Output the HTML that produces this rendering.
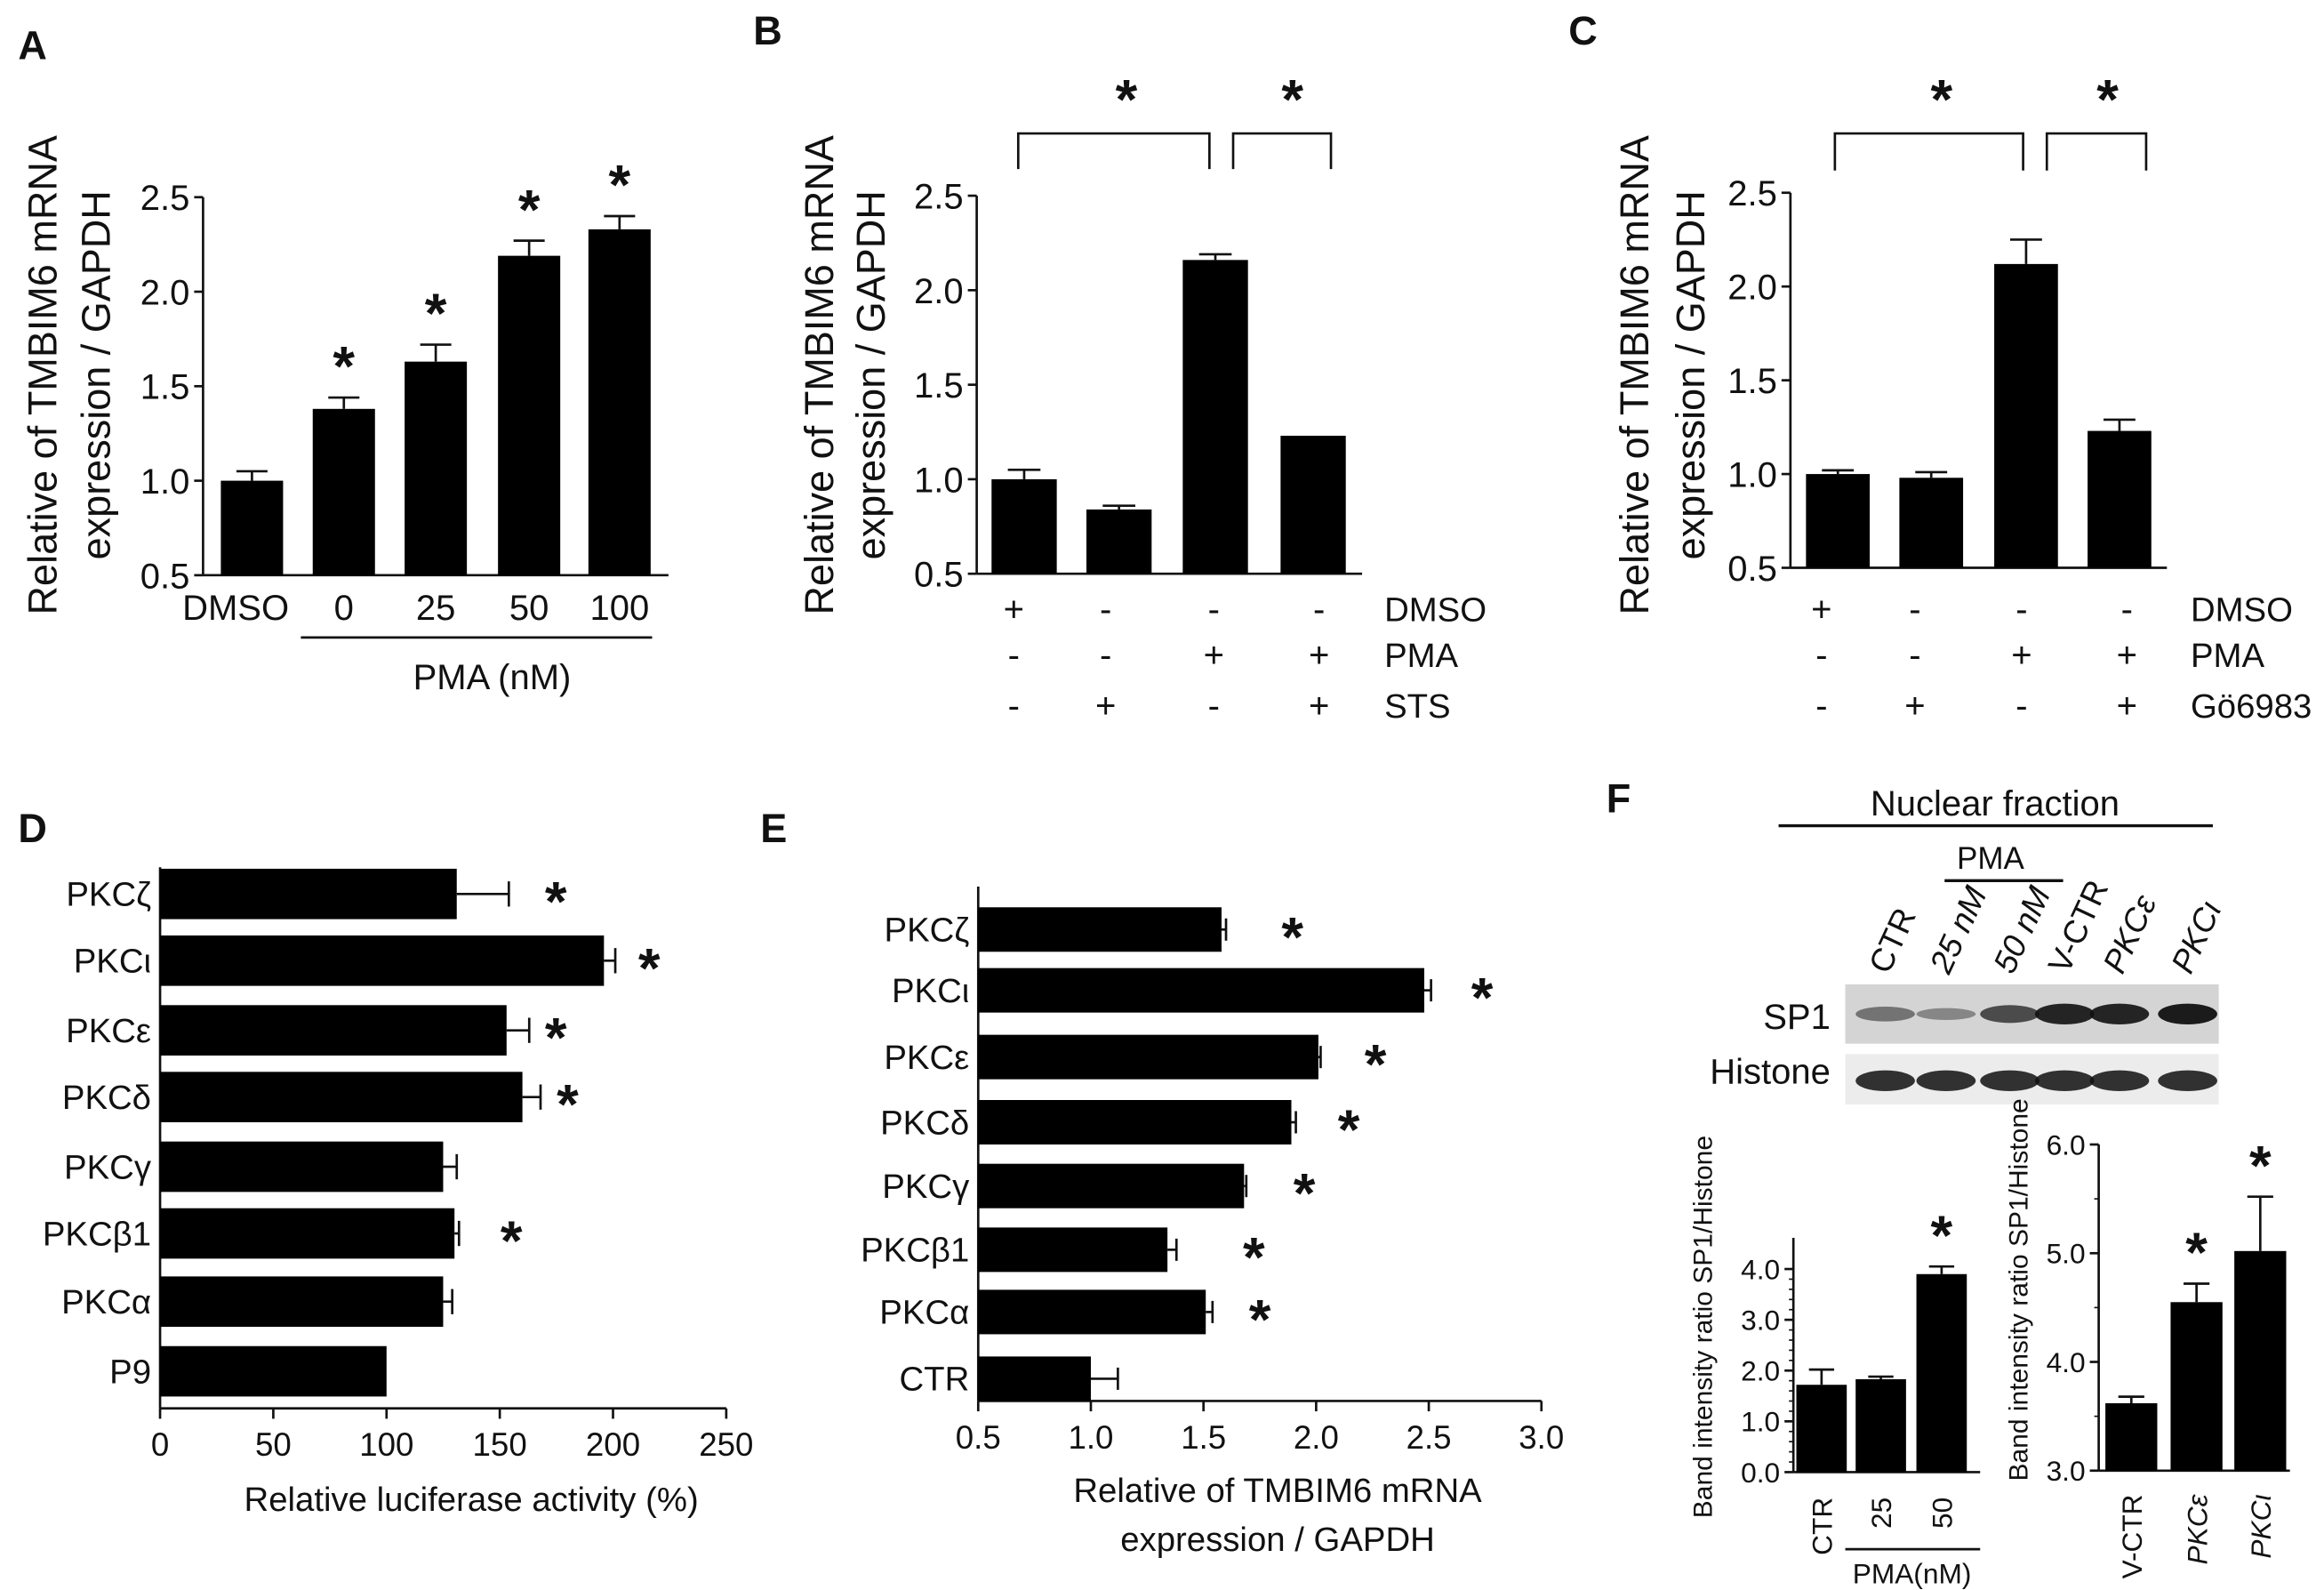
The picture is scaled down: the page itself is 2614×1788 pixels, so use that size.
<!DOCTYPE html>
<html><head><meta charset="utf-8"><style>
html,body{margin:0;padding:0;background:#fff}
svg{display:block}
text{font-family:"Liberation Sans",Arial,sans-serif;fill:#111}
</style></head><body>
<svg id="fig" width="2614" height="1788" viewBox="0 0 1568 1072.5" xmlns="http://www.w3.org/2000/svg"></svg>
<script>
// ---------- DATA ----------
const aCats = ["DMSO","0","25","50","100"];
const aVals = [1.0,1.38,1.63,2.19,2.33];
const aErrs = [0.05,0.06,0.09,0.08,0.07];
const aStars = [false,true,true,true,true];
const bVals = [1.0,0.84,2.16,1.23];
const bErrs = [0.05,0.02,0.03,0.0];
const bRows = [["+","-","-","-"],["-","-","+","+"],["-","+","-","+"]];
const bRowLabels = ["DMSO","PMA","STS"];
const cVals = [1.0,0.98,2.12,1.23];
const cErrs = [0.02,0.03,0.13,0.06];
const cRows = [["+","-","-","-"],["-","-","+","+"],["-","+","-","+"]];
const cRowLabels = ["DMSO","PMA","Gö6983"];
const yTicksABC = [0.5,1.0,1.5,2.0,2.5];
const dCats = ["PKCζ","PKCι","PKCε","PKCδ","PKCγ","PKCβ1","PKCα","P9"];
const dVals = [131,196,153,160,125,130,125,100];
const dErrs = [23,5,10,8,6,2,4,0];
const dStars = [true,true,true,true,false,true,false,false];
const dTicks = [0,50,100,150,200,250];
const eCats = ["PKCζ","PKCι","PKCε","PKCδ","PKCγ","PKCβ1","PKCα","CTR"];
const eVals = [1.58,2.48,2.01,1.89,1.68,1.34,1.51,1.0];
const eErrs = [0.02,0.03,0.01,0.02,0.01,0.04,0.03,0.12];
const eStars = [true,true,true,true,true,true,true,false];
const eTicks = [0.5,1.0,1.5,2.0,2.5,3.0];
const f1Cats = ["CTR","25","50"];
const f1Vals = [1.72,1.83,3.9];
const f1Errs = [0.3,0.05,0.15];
const f1Ticks = [0,1,2,3,4];
const f2Cats = ["V-CTR","PKCε","PKCι"];
const f2Vals = [3.62,4.55,5.02];
const f2Errs = [0.06,0.17,0.5];
const f2Ticks = [3,4,5,6];

// ---------- HELPERS ----------
const svg = document.getElementById('fig');
const NS = "http://www.w3.org/2000/svg";
function mk(tag, attrs, name, parent){
  const e = document.createElementNS(NS, tag);
  for (const k in attrs) e.setAttribute(k, attrs[k]);
  
  
  (parent||svg).appendChild(e);
  return e;
}
function txt(x,y,s,size,name,opt){
  opt=opt||{};
  const t = mk('text',{x:x,y:y,'font-size':size,'text-anchor':opt.anchor||'middle','font-weight':opt.bold?'bold':'normal'},name,opt.parent);
  if(opt.rot!==undefined) t.setAttribute('transform','rotate('+opt.rot+' '+x+' '+y+')');
  if(opt.italic) t.setAttribute('font-style','italic');
  t.textContent = s;
  return t;
}
function line(x1,y1,x2,y2,name,w){
  return mk('line',{x1:x1,y1:y1,x2:x2,y2:y2,stroke:'#111','stroke-width':w||1.6},name);
}
function star(x,y,name){ return txt(x,y,'*',38,name||'significance-star',{bold:true}); }

function vPanel(o){
  const y = v => o.y0 - (v - o.vmin)/(o.vmax - o.vmin)*(o.y0 - o.y1);
  line(o.ax, o.top, o.ax, o.y0, o.id+'-y-axis');
  line(o.ax, o.y0, o.right, o.y0, o.id+'-x-axis');
  o.ticks.forEach(t=>{
    line(o.ax-6, y(t), o.ax, y(t), o.id+'-y-tick');
    txt(o.ax-9, y(t)+o.fs*0.36, t.toFixed(1), o.fs, o.id+'-y-tick-label',{anchor:'end'});
  });
  if(o.minor){ for(let i=0;i<o.ticks.length-1;i++){ const st=(o.ticks[i+1]-o.ticks[i])/o.minor; for(let k=1;k<o.minor;k++){ line(o.ax-3,y(o.ticks[i]+k*st),o.ax,y(o.ticks[i]+k*st),o.id+'-minor-tick',1);} } }
  o.vals.forEach((v,i)=>{
    const cx = o.cx[i];
    mk('rect',{x:cx-o.bw/2,y:y(v),width:o.bw,height:o.y0-y(v),fill:'#000'},o.id+'-bar-'+i);
    if(o.errs[i]>0){
      line(cx,y(v),cx,y(v+o.errs[i]),o.id+'-error-bar');
      line(cx-o.bw/4,y(v+o.errs[i]),cx+o.bw/4,y(v+o.errs[i]),o.id+'-error-cap');
    }
    if(o.stars && o.stars[i]) star(cx, y(v+o.errs[i])-8, o.id+'-star');
  });
  return y;
}

// ---------- PANEL A ----------
txt(22,40,'A',27,'panel-a-label',{bold:true});
txt(38,253,'Relative of TMBIM6 mRNA',27,'panel-a-y-title-1',{rot:-90});
txt(74,253,'expression / GAPDH',27,'panel-a-y-title-2',{rot:-90});
const acx=[170,232,294,357,418];
vPanel({id:'a',ax:137,top:133,y0:388,y1:133,vmin:0.5,vmax:2.5,right:451,ticks:yTicksABC,fs:24,
  vals:aVals,errs:aErrs,stars:aStars,cx:acx,bw:42});
aCats.forEach((c,i)=>txt(i==0?159:acx[i],418,c,24,'panel-a-x-label'));
line(203,430,440,430,'panel-a-pma-bracket');
txt(332,465,'PMA (nM)',24,'panel-a-pma-label');

// ---------- PANEL B ----------
txt(518,30,'B',27,'panel-b-label',{bold:true});
txt(562,253,'Relative of TMBIM6 mRNA',27,'panel-b-y-title-1',{rot:-90});
txt(597,253,'expression / GAPDH',27,'panel-b-y-title-2',{rot:-90});
const bcx=[691,755,820,886];
vPanel({id:'b',ax:659,top:132,y0:387,y1:132,vmin:0.5,vmax:2.5,right:919,ticks:yTicksABC,fs:24,
  vals:bVals,errs:bErrs,cx:bcx,bw:44});
function bracket(x1,x2,yt,yb,id){
  mk('polyline',{points:x1+','+yb+' '+x1+','+yt+' '+x2+','+yt+' '+x2+','+yb,fill:'none',stroke:'#111','stroke-width':1.6},id);
}
bracket(687,816,90,114,'panel-b-bracket-1'); bracket(832,898,90,114,'panel-b-bracket-2');
star(760,80,'panel-b-star'); star(872,80,'panel-b-star');
const rowY=[419,450,484];
const bSignX=[684,746,819,890];
bRows.forEach((r,ri)=>{ r.forEach((s,i)=>txt(bSignX[i],rowY[ri],s,24,'panel-b-condition-sign')); txt(934,rowY[ri],bRowLabels[ri],23,'panel-b-row-label',{anchor:'start'}); });

// ---------- PANEL C ----------
txt(1068,30,'C',27,'panel-c-label',{bold:true});
txt(1112,253,'Relative of TMBIM6 mRNA',27,'panel-c-y-title-1',{rot:-90});
txt(1150,253,'expression / GAPDH',27,'panel-c-y-title-2',{rot:-90});
const ccx=[1240,1303,1367,1430];
vPanel({id:'c',ax:1208,top:130,y0:383,y1:130,vmin:0.5,vmax:2.5,right:1462,ticks:yTicksABC,fs:24,
  vals:cVals,errs:cErrs,cx:ccx,bw:43});
bracket(1238,1365,90,115,'panel-c-bracket-1'); bracket(1381,1448,90,115,'panel-c-bracket-2');
star(1310,80,'panel-c-star'); star(1422,80,'panel-c-star');
const cSignX=[1229,1292,1364,1435];
cRows.forEach((r,ri)=>{ r.forEach((s,i)=>txt(cSignX[i],rowY[ri],s,24,'panel-c-condition-sign')); txt(1478,rowY[ri],cRowLabels[ri],23,'panel-c-row-label',{anchor:'start'}); });

function hPanel(o){
  const x = v => o.x0 + (v - o.vmin)/(o.vmax - o.vmin)*(o.x1 - o.x0);
  line(o.x0,o.top,o.x0,o.y0,o.id+'-y-axis');
  line(o.x0,o.y0,x(o.vmax),o.y0,o.id+'-x-axis');
  o.ticks.forEach(t=>{
    line(x(t),o.y0,x(t),o.y0+7,o.id+'-x-tick');
    txt(x(t),o.y0+32,o.dec?t.toFixed(1):String(t),o.fs,o.id+'-x-tick-label');
  });
  o.vals.forEach((v,i)=>{
    const cy=o.cy[i];
    mk('rect',{x:o.x0,y:cy-o.bh/2,width:x(v)-o.x0,height:o.bh,fill:'#000'},o.id+'-bar-'+i);
    if(o.errs[i]>0){
      line(x(v),cy,x(v+o.errs[i]),cy,o.id+'-error-bar');
      line(x(v+o.errs[i]),cy-o.bh/4,x(v+o.errs[i]),cy+o.bh/4,o.id+'-error-cap');
    }
    txt(o.x0-6,cy+8,o.cats[i],23,o.id+'-category-label',{anchor:'end'});
  });
  return x;
}

// ---------- PANEL D ----------
txt(22,568,'D',27,'panel-d-label',{bold:true});
const dcy=[603,648,695,740,787,832,878,925];
hPanel({id:'d',x0:108,x1:490,vmin:0,vmax:250,top:585,y0:950,ticks:dTicks,fs:22,
  vals:dVals,errs:dErrs,cats:dCats,cy:dcy,bh:34});
const dStarX=[375,438,375,383,0,345,0,0];
dStars.forEach((s,i)=>{ if(s) star(dStarX[i],dcy[i]+18,'panel-d-star'); });
txt(318,1019,'Relative luciferase activity (%)',23,'panel-d-x-title');

// ---------- PANEL E ----------
txt(522,568,'E',27,'panel-e-label',{bold:true});
const ecy=[627,668,713,757,800,843,885,930];
hPanel({id:'e',x0:660,x1:1040,vmin:0.5,vmax:3.0,top:598,y0:945,ticks:eTicks,fs:22,dec:true,
  vals:eVals,errs:eErrs,cats:eCats,cy:ecy,bh:30});
const eStarX=[872,1000,928,910,880,846,850,0];
eStars.forEach((s,i)=>{ if(s) star(eStarX[i],ecy[i]+18,'panel-e-star'); });
txt(862,1013,'Relative of TMBIM6 mRNA',23,'panel-e-x-title-1');
txt(862,1046,'expression / GAPDH',23,'panel-e-x-title-2');

// ---------- PANEL F ----------
txt(1092,548,'F',27,'panel-f-label',{bold:true});
txt(1346,550,'Nuclear fraction',24,'nuclear-fraction-label');
line(1200,557,1493,557,'nuclear-fraction-bar',2);
txt(1343,586,'PMA',21,'blot-pma-label');
line(1312,594,1392,594,'blot-pma-bar',2);
const laneX=[1272,1313,1356,1393,1430,1476];
const laneL=["CTR","25 nM","50 nM","V-CTR","PKCε","PKCι"];
laneL.forEach((l,i)=>txt(laneX[i]+2,658,l,22,'blot-lane-label',{anchor:'start',rot:-65,italic:i>0&&i<3||i>3}));
mk('rect',{x:1245,y:664,width:252,height:40,fill:'#d4d4d4'},'sp1-blot');
mk('rect',{x:1245,y:711,width:252,height:34,fill:'#ececec'},'histone-blot');
const sp1W=[[0.5,5],[0.4,4],[0.7,6],[0.9,7],[0.9,7],[0.95,7]];
laneX.forEach((x,i)=>{
  mk('ellipse',{cx:x,cy:684,rx:20,ry:sp1W[i][1],fill:'#111',opacity:sp1W[i][0]},'sp1-band');
  mk('ellipse',{cx:x,cy:729,rx:20,ry:7,fill:'#111',opacity:0.85},'histone-band');
});
txt(1235,694,'SP1',24,'sp1-label',{anchor:'end'});
txt(1235,731,'Histone',24,'histone-label',{anchor:'end'});

txt(1155,895,'Band intensity ratio SP1/Histone',18,'panel-f1-y-title',{rot:-90});
vPanel({id:'f1',ax:1210,top:835,y0:993,y1:856,vmin:0,vmax:4,right:1336,ticks:f1Ticks,fs:19,minor:5,
  vals:f1Vals,errs:f1Errs,stars:[false,false,true],cx:[1229,1269,1310],bw:34});
f1Cats.forEach((c,i)=>txt([1229,1269,1310][i]+7,1010,c,19,'panel-f1-x-label',{anchor:'end',rot:-90}));
line(1245,1045,1336,1045,'panel-f1-pma-bar');
txt(1290,1068,'PMA(nM)',19,'panel-f1-pma-label');

txt(1368,870,'Band intensity ratio SP1/Histone',18,'panel-f2-y-title',{rot:-90});
vPanel({id:'f2',ax:1416,top:772,y0:992,y1:772,vmin:3,vmax:6,right:1545,ticks:f2Ticks,fs:19,minor:2,
  vals:f2Vals,errs:f2Errs,stars:[false,true,true],cx:[1438,1482,1525],bw:35});
f2Cats.forEach((c,i)=>txt([1438,1482,1525][i]+7,1008,c,19,'panel-f2-x-label',{anchor:'end',rot:-90,italic:i>0}));
</script>
</body></html>
